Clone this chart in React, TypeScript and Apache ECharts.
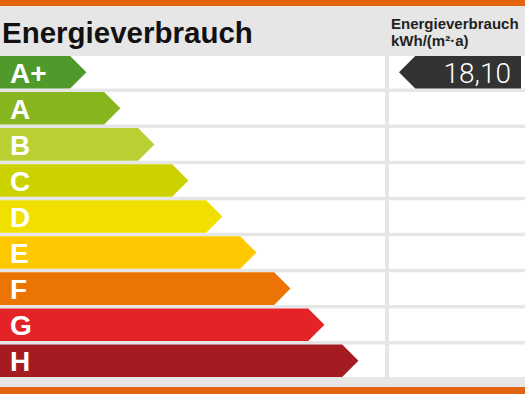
import React, { useEffect, useRef } from "react";
import * as echarts from "echarts";

const categories = ["A+", "A", "B", "C", "D", "E", "F", "G", "H"];
const arrowLevels = [1, 2, 3, 4, 5, 6, 7, 8, 9];
const classColors = ["#509a2c", "#86b51e", "#b9cf33", "#ccd200", "#f1df00", "#fdc800", "#ec7404", "#e42328", "#a51b22"];
const classUpperLimits = [30, 50, 75, 100, 130, 160, 200, 250, 100000];
const consumption = 18.1;
const consumptionLabel = "18,10";
const titleText = "Energieverbrauch";
const unitTitle = "Energieverbrauch";
const unitText = "kWh/(m²·a)";

const ORANGE = "#e3650f";
const GRAY = "#e6e6e6";
const FONT = "'Liberation Sans', Arial, sans-serif";

export default function App() {
  const ref = useRef<HTMLDivElement>(null);
  useEffect(() => {
    document.body.style.margin = "0";
    const chart = echarts.init(ref.current!, undefined, { renderer: "svg" });
    const classIndex = classUpperLimits.findIndex((l) => consumption < l);

    const option: any = {
      animation: false,
      backgroundColor: GRAY,
      grid: { left: 0, top: 54.25, width: 385, height: 324.5 },
      xAxis: { type: "value", min: -1.54, max: 9.78, show: false },
      yAxis: { type: "category", data: categories, inverse: true, show: false },
      graphic: [
        { type: "rect", shape: { x: 0, y: 0, width: 525, height: 6 }, style: { fill: ORANGE }, z: 100 },
        { type: "rect", shape: { x: 0, y: 387, width: 525, height: 7 }, style: { fill: ORANGE }, z: 100 },
        {
          type: "text", x: 2, y: 32, z: 100,
          style: { text: titleText, font: `bold 29.5px ${FONT}`, fill: "#111", verticalAlign: "middle" },
        },
        {
          type: "text", x: 391, y: 23, z: 100,
          style: { text: unitTitle, font: `bold 15px ${FONT}`, fill: "#222", verticalAlign: "middle" },
        },
        {
          type: "text", x: 391, y: 40, z: 100,
          style: { text: unitText, font: `bold 15px ${FONT}`, fill: "#222", verticalAlign: "middle" },
        },
      ],
      series: [
        {
          type: "custom",
          data: categories.map((c, i) => [arrowLevels[i], i]),
          renderItem: (params: any, api: any) => {
            const idx = api.value(1);
            const tip = api.coord([api.value(0), idx]);
            const band = api.size([0, 1])[1];
            const h = band - 3.5;
            const top = tip[1] - h / 2;
            const bottom = top + h;
            const cs = params.coordSys;
            const colRight = cs.x + cs.width;
            const bodyEnd = tip[0] - h / 2;
            return {
              type: "group",
              children: [
                { type: "rect", shape: { x: 0, y: top, width: colRight, height: h }, style: { fill: "#fff" } },
                { type: "rect", shape: { x: colRight + 4, y: top, width: api.getWidth() - colRight - 4, height: h }, style: { fill: "#fff" } },
                {
                  type: "polygon",
                  shape: { points: [[0, top], [bodyEnd, top], [tip[0], tip[1]], [bodyEnd, bottom], [0, bottom]] },
                  style: { fill: classColors[idx] },
                },
                {
                  type: "text", x: 10, y: tip[1] + 1,
                  style: { text: categories[idx], font: `bold 28px ${FONT}`, fill: "#fff", verticalAlign: "middle" },
                },
              ],
            };
          },
        },
        {
          type: "custom",
          data: [[consumption, classIndex]],
          z: 5,
          renderItem: (params: any, api: any) => {
            const p = api.coord([0, api.value(1)]);
            const band = api.size([0, 1])[1];
            const h = band - 3.5;
            const top = p[1] - h / 2;
            const bottom = top + h;
            const cs = params.coordSys;
            const tipX = cs.x + cs.width + 14;
            const bodyX = tipX + h / 2;
            const right = api.getWidth() - 4;
            return {
              type: "group",
              children: [
                {
                  type: "polygon",
                  shape: { points: [[tipX, p[1]], [bodyX, top], [right, top], [right, bottom], [bodyX, bottom]] },
                  style: { fill: "#333333" },
                },
                {
                  type: "text", x: right - 10, y: p[1] + 1,
                  style: { text: consumptionLabel, font: `300 28px Roboto, sans-serif`, fill: "#fff", align: "right", verticalAlign: "middle" },
                },
              ],
            };
          },
        },
      ],
    };
    chart.setOption(option);
    return () => chart.dispose();
  }, []);
  return <div ref={ref} style={{ width: 525, height: 394 }} />;
}
